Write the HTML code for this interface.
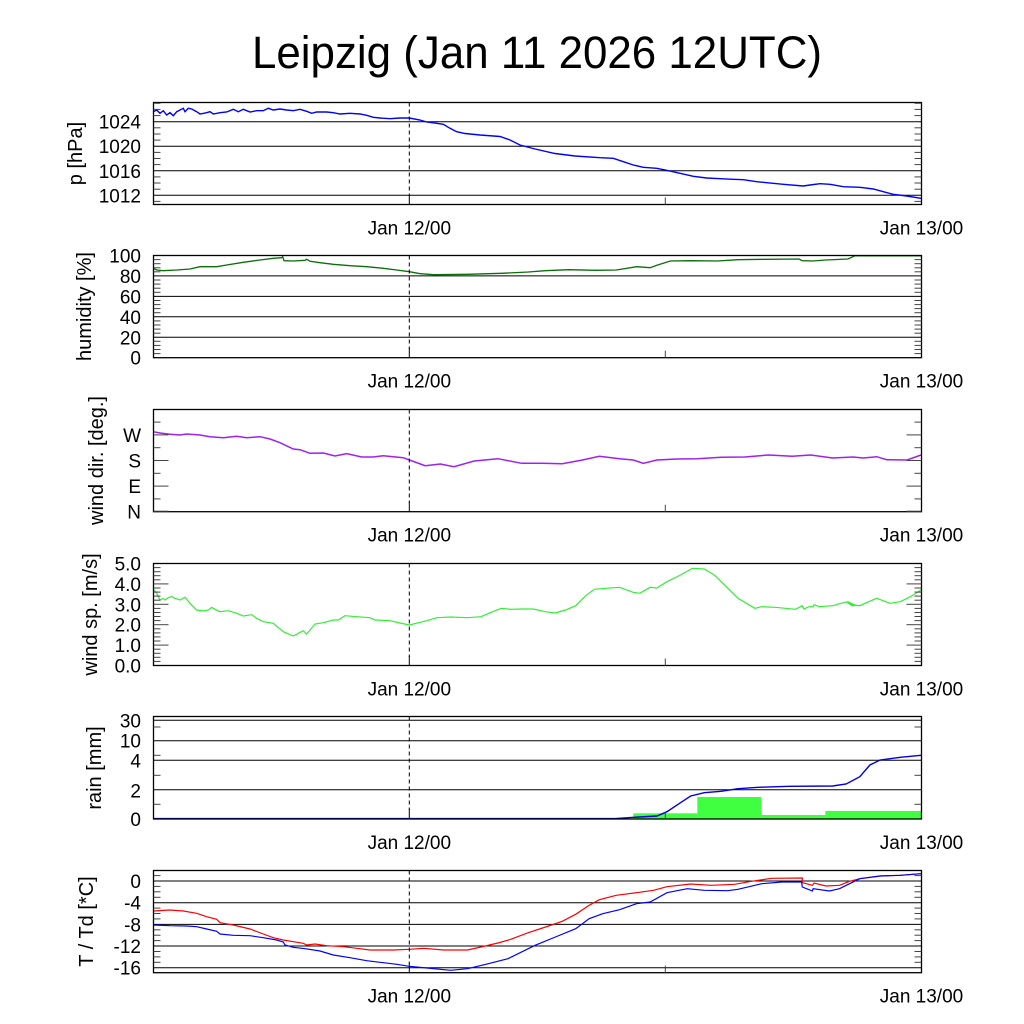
<!DOCTYPE html>
<html><head><meta charset="utf-8"><style>
html,body{margin:0;padding:0;background:#fff;}
svg{display:block;}
text{font-family:"Liberation Sans",Arial,sans-serif;fill:#000;}
.tl{font-size:19px;text-anchor:end;}
.xl{font-size:19px;text-anchor:middle;}
.yt{font-size:20px;text-anchor:middle;}
.g{stroke:#000;stroke-width:1;fill:none;}
.fr{stroke:#000;stroke-width:1.3;fill:none;}
.tk{stroke:#444;stroke-width:1;}
.ds{stroke:#000;stroke-width:1;stroke-dasharray:4,3;}
</style></head><body>
<svg width="1024" height="1024" viewBox="0 0 1024 1024" xmlns="http://www.w3.org/2000/svg">
<rect x="0" y="0" width="1024" height="1024" fill="#fff"/>
<text x="537" y="68" font-size="45" text-anchor="middle" textLength="570" lengthAdjust="spacingAndGlyphs">Leipzig (Jan 11 2026 12UTC)</text>

<!-- ===== Panel 1: pressure ===== -->
<g class="g">
<line x1="153.5" y1="121.7" x2="921.5" y2="121.7"/>
<line x1="153.5" y1="146.2" x2="921.5" y2="146.2"/>
<line x1="153.5" y1="170.8" x2="921.5" y2="170.8"/>
<line x1="153.5" y1="195.3" x2="921.5" y2="195.3"/>
</g>
<polyline fill="none" stroke="#0000ff" stroke-width="1.4" points="153.3,111.7 156.7,110 160,113.3 163.3,110.7 166.7,115 170,112.7 173.3,115.7 176.7,111.7 180,110 183.3,108.3 185,111.7 188.3,108.3 191.7,109 196.7,111.7 200,114 206.7,112.7 210,111.7 213.3,114 220,112.7 226.7,112 233.3,109.3 238.3,111.7 243.3,109.3 250,112 256.7,110.7 263.3,110.7 268.3,108.3 273.3,110 280,109 286.7,110 293.3,110.7 300,109.3 306.7,111.3 311.7,113.3 316.7,112 326.7,112 333.3,112.7 340,114 350,113.3 360,114 366.7,115.3 373.3,117.3 380,118 390,118.7 400,118 409.3,118 420,120 426.7,122 436.7,123.3 443.3,124.3 450,128.3 456.7,131.7 465,133.5 480,135 500,136.5 510,140 520,145 535,149 555,153.5 575,156 600,157.7 613.3,158.3 623.3,161.7 633.3,165 643.3,167.3 656.7,168.3 666.7,170.3 680,173.3 693.3,176.3 706.7,178 720,178.7 733.3,179.3 743.3,179.7 756.7,181.7 766.7,182.7 783.3,184.3 803.3,186 810,185 820,183.7 830,184.3 843.3,186.7 860,187.3 873.3,189 883.3,191.7 893.3,194.3 906.7,196 921,198.3"/>
<rect class="fr" x="153.5" y="102.5" width="768" height="102"/>
<g class="tk">
<line x1="153.5" y1="103.3" x2="160.5" y2="103.3"/><line x1="921.5" y1="103.3" x2="914.5" y2="103.3"/>
<line x1="153.5" y1="109.4" x2="160.5" y2="109.4"/><line x1="921.5" y1="109.4" x2="914.5" y2="109.4"/>
<line x1="153.5" y1="115.6" x2="160.5" y2="115.6"/><line x1="921.5" y1="115.6" x2="914.5" y2="115.6"/>
<line x1="153.5" y1="127.8" x2="160.5" y2="127.8"/><line x1="921.5" y1="127.8" x2="914.5" y2="127.8"/>
<line x1="153.5" y1="134.0" x2="160.5" y2="134.0"/><line x1="921.5" y1="134.0" x2="914.5" y2="134.0"/>
<line x1="153.5" y1="140.1" x2="160.5" y2="140.1"/><line x1="921.5" y1="140.1" x2="914.5" y2="140.1"/>
<line x1="153.5" y1="152.4" x2="160.5" y2="152.4"/><line x1="921.5" y1="152.4" x2="914.5" y2="152.4"/>
<line x1="153.5" y1="158.5" x2="160.5" y2="158.5"/><line x1="921.5" y1="158.5" x2="914.5" y2="158.5"/>
<line x1="153.5" y1="164.6" x2="160.5" y2="164.6"/><line x1="921.5" y1="164.6" x2="914.5" y2="164.6"/>
<line x1="153.5" y1="176.9" x2="160.5" y2="176.9"/><line x1="921.5" y1="176.9" x2="914.5" y2="176.9"/>
<line x1="153.5" y1="183.0" x2="160.5" y2="183.0"/><line x1="921.5" y1="183.0" x2="914.5" y2="183.0"/>
<line x1="153.5" y1="189.2" x2="160.5" y2="189.2"/><line x1="921.5" y1="189.2" x2="914.5" y2="189.2"/>
<line x1="153.5" y1="201.4" x2="160.5" y2="201.4"/><line x1="921.5" y1="201.4" x2="914.5" y2="201.4"/>
<line x1="665.3" y1="204.5" x2="665.3" y2="197.5"/>
</g>
<line class="ds" x1="409.3" y1="102.5" x2="409.3" y2="196"/>
<line stroke="#000" x1="409.3" y1="195" x2="409.3" y2="204.5"/>
<text class="tl" x="141" y="128.7">1024</text>
<text class="tl" x="141" y="153.2">1020</text>
<text class="tl" x="141" y="177.8">1016</text>
<text class="tl" x="141" y="202.3">1012</text>
<text class="yt" transform="translate(82,153.5) rotate(-90)">p [hPa]</text>
<text class="xl" x="409.3" y="234.5">Jan 12/00</text>
<text class="xl" x="921.5" y="234.5">Jan 13/00</text>

<!-- ===== Panel 2: humidity ===== -->
<g class="g">
<line x1="153.5" y1="275.9" x2="921.5" y2="275.9"/>
<line x1="153.5" y1="296.4" x2="921.5" y2="296.4"/>
<line x1="153.5" y1="316.8" x2="921.5" y2="316.8"/>
<line x1="153.5" y1="337.3" x2="921.5" y2="337.3"/>
</g>
<polyline fill="none" stroke="#0a6e0a" stroke-width="1.3" points="153.3,268.3 156.7,270 163.3,270.7 176.7,270 190,269 200,266.7 216.7,266.7 226.7,265 243.3,262.3 260,260 273.3,258.3 281.7,257.7 282.7,256.7 284,260.7 293.3,261 305,260.3 306.7,259.3 310,261.3 320,262.7 333.3,264.3 350,265.7 366.7,266.7 383.3,268.3 396.7,270 409.3,271.7 420.1,273.7 433.6,274.7 467.5,274.3 501.3,273.3 528.3,272 545.2,270.7 568.9,269.7 596,270.3 616.3,270 636.6,266.7 650.1,267.7 656.9,265.3 670.4,261 690.7,260.7 717.7,261 738,259.7 765.1,259.3 798.9,259 802.3,260.7 812.4,261 825.9,260 847.9,259 854.7,255.9 921,255.9"/>
<rect class="fr" x="153.5" y="255.5" width="768" height="102.2"/>
<g class="tk">
<line x1="153.5" y1="353.6" x2="160.5" y2="353.6"/><line x1="921.5" y1="353.6" x2="914.5" y2="353.6"/>
<line x1="153.5" y1="349.5" x2="160.5" y2="349.5"/><line x1="921.5" y1="349.5" x2="914.5" y2="349.5"/>
<line x1="153.5" y1="345.4" x2="160.5" y2="345.4"/><line x1="921.5" y1="345.4" x2="914.5" y2="345.4"/>
<line x1="153.5" y1="341.3" x2="160.5" y2="341.3"/><line x1="921.5" y1="341.3" x2="914.5" y2="341.3"/>
<line x1="153.5" y1="333.2" x2="160.5" y2="333.2"/><line x1="921.5" y1="333.2" x2="914.5" y2="333.2"/>
<line x1="153.5" y1="329.1" x2="160.5" y2="329.1"/><line x1="921.5" y1="329.1" x2="914.5" y2="329.1"/>
<line x1="153.5" y1="325.0" x2="160.5" y2="325.0"/><line x1="921.5" y1="325.0" x2="914.5" y2="325.0"/>
<line x1="153.5" y1="320.9" x2="160.5" y2="320.9"/><line x1="921.5" y1="320.9" x2="914.5" y2="320.9"/>
<line x1="153.5" y1="312.7" x2="160.5" y2="312.7"/><line x1="921.5" y1="312.7" x2="914.5" y2="312.7"/>
<line x1="153.5" y1="308.6" x2="160.5" y2="308.6"/><line x1="921.5" y1="308.6" x2="914.5" y2="308.6"/>
<line x1="153.5" y1="304.6" x2="160.5" y2="304.6"/><line x1="921.5" y1="304.6" x2="914.5" y2="304.6"/>
<line x1="153.5" y1="300.5" x2="160.5" y2="300.5"/><line x1="921.5" y1="300.5" x2="914.5" y2="300.5"/>
<line x1="153.5" y1="292.3" x2="160.5" y2="292.3"/><line x1="921.5" y1="292.3" x2="914.5" y2="292.3"/>
<line x1="153.5" y1="288.2" x2="160.5" y2="288.2"/><line x1="921.5" y1="288.2" x2="914.5" y2="288.2"/>
<line x1="153.5" y1="284.1" x2="160.5" y2="284.1"/><line x1="921.5" y1="284.1" x2="914.5" y2="284.1"/>
<line x1="153.5" y1="280.0" x2="160.5" y2="280.0"/><line x1="921.5" y1="280.0" x2="914.5" y2="280.0"/>
<line x1="153.5" y1="271.8" x2="160.5" y2="271.8"/><line x1="921.5" y1="271.8" x2="914.5" y2="271.8"/>
<line x1="153.5" y1="267.8" x2="160.5" y2="267.8"/><line x1="921.5" y1="267.8" x2="914.5" y2="267.8"/>
<line x1="153.5" y1="263.7" x2="160.5" y2="263.7"/><line x1="921.5" y1="263.7" x2="914.5" y2="263.7"/>
<line x1="153.5" y1="259.6" x2="160.5" y2="259.6"/><line x1="921.5" y1="259.6" x2="914.5" y2="259.6"/>
<line x1="665.3" y1="357.7" x2="665.3" y2="350.7"/>
</g>
<line class="ds" x1="409.3" y1="255.5" x2="409.3" y2="349"/>
<line stroke="#000" x1="409.3" y1="348" x2="409.3" y2="357.7"/>
<text class="tl" x="141" y="262.5">100</text>
<text class="tl" x="141" y="282.9">80</text>
<text class="tl" x="141" y="303.4">60</text>
<text class="tl" x="141" y="323.8">40</text>
<text class="tl" x="141" y="344.3">20</text>
<text class="tl" x="141" y="364.7">0</text>
<text class="yt" transform="translate(91,306.5) rotate(-90)">humidity [%]</text>
<text class="xl" x="409.3" y="387.5">Jan 12/00</text>
<text class="xl" x="921.5" y="387.5">Jan 13/00</text>

<!-- ===== Panel 3: wind dir ===== -->
<polyline fill="none" stroke="#a020f0" stroke-width="1.5" points="153.3,431.7 160,433 170,434.3 180,435 186.7,434 200,435 210,436.7 223.3,437.7 236.7,436.3 246.7,437.7 260,436.7 270,439 280,442.7 293.3,449 300,449.7 310,453.3 323.3,453 335,456 346.7,453.7 361.7,457 373.3,457 383.3,455.7 403.3,457.7 409.3,460 425.2,465.7 440.4,464 453.9,466.7 474.2,461 497.9,458.7 521.6,463.3 541.9,463.3 562.2,463.7 582.5,460 599.4,456.3 619.6,458.7 633.2,460 643.3,463.3 656.9,460 677.1,459 697.4,458.7 721.1,457.3 744.8,457 768.5,455 792.1,456.3 810.7,455 832.7,458 853,457 863.2,458 876.7,456.7 886.8,459.7 907.1,460 921,455"/>
<rect class="fr" x="153.5" y="409.5" width="768" height="102.2"/>
<g class="tk">
<line x1="153.5" y1="486.1" x2="168.5" y2="486.1"/><line x1="921.5" y1="486.1" x2="906.5" y2="486.1"/>
<line x1="153.5" y1="460.5" x2="168.5" y2="460.5"/><line x1="921.5" y1="460.5" x2="906.5" y2="460.5"/>
<line x1="153.5" y1="434.9" x2="168.5" y2="434.9"/><line x1="921.5" y1="434.9" x2="906.5" y2="434.9"/>
<line x1="153.5" y1="511.2" x2="168.5" y2="511.2"/><line x1="921.5" y1="511.2" x2="906.5" y2="511.2"/>
<line x1="153.5" y1="498.9" x2="160.5" y2="498.9"/><line x1="921.5" y1="498.9" x2="914.5" y2="498.9"/>
<line x1="153.5" y1="473.3" x2="160.5" y2="473.3"/><line x1="921.5" y1="473.3" x2="914.5" y2="473.3"/>
<line x1="153.5" y1="447.7" x2="160.5" y2="447.7"/><line x1="921.5" y1="447.7" x2="914.5" y2="447.7"/>
<line x1="153.5" y1="422.1" x2="160.5" y2="422.1"/><line x1="921.5" y1="422.1" x2="914.5" y2="422.1"/>
<line x1="665.3" y1="511.7" x2="665.3" y2="504.7"/>
</g>
<line class="ds" x1="409.3" y1="409.5" x2="409.3" y2="503"/>
<line stroke="#000" x1="409.3" y1="502" x2="409.3" y2="511.7"/>
<text class="tl" x="141" y="441.9">W</text>
<text class="tl" x="141" y="467.5">S</text>
<text class="tl" x="141" y="493.1">E</text>
<text class="tl" x="141" y="518.7">N</text>
<text class="yt" transform="translate(103,460.5) rotate(-90)">wind dir. [deg.]</text>
<text class="xl" x="409.3" y="541.5">Jan 12/00</text>
<text class="xl" x="921.5" y="541.5">Jan 13/00</text>

<!-- ===== Panel 4: wind speed ===== -->
<polyline fill="none" stroke="#33ee33" stroke-width="1.2" points="154,590 156.7,593.3 160,600 163.3,598.3 165,600 168.3,597.7 171.7,596.7 175,598.3 180,600 185,597.3 190,603.3 196.7,610 203.3,611 208.3,610 211.7,607.3 215,609.3 220,611.7 228.3,610.7 236.7,613.3 243.3,616 251.7,614.7 256.7,618.3 263.3,621.7 273.3,623.3 283.3,631.7 293.3,636 298.3,633.3 303.3,630.7 306.7,634 315,624 323.3,622.7 333.3,620 338.3,620 345,615.7 356.7,616.7 370,617.7 375,620 390,620.7 400,623 409.3,625 426.9,620.7 437,617.7 450.6,617 467.5,617.7 481,616.7 491.1,612.3 501.3,608.3 511.4,609.3 521.6,609 533.4,609 545.2,611.7 555.4,613 565.5,610 575.7,605.7 585.8,595.7 594.3,589.3 606.1,588.3 619.6,587.3 633.2,592.3 639.9,593.3 650.1,587.3 656.9,588 667,581.7 680.5,575 692.4,568.3 704.2,569 714.3,575 727.9,588.3 738,598.3 754.9,608.3 761.7,606.7 775.2,607.3 795.5,609.3 802.3,605.7 803.9,609 809,606.7 813.1,606.7 814.1,604.7 819.2,606.7 832.7,605.7 839.5,603.7 848,601.7 854.7,605 859.8,605.7 866.5,602.7 876.7,598.3 890.2,603.3 900.3,601.7 910.5,596.7 921,590"/>
<polygon fill="#33ee33" points="845,601.5 858,605.5 852,606.5"/>
<rect class="fr" x="153.5" y="563.5" width="768" height="102"/>
<g class="tk">
<line x1="153.5" y1="645.1" x2="168.5" y2="645.1"/><line x1="921.5" y1="645.1" x2="906.5" y2="645.1"/>
<line x1="153.5" y1="624.7" x2="168.5" y2="624.7"/><line x1="921.5" y1="624.7" x2="906.5" y2="624.7"/>
<line x1="153.5" y1="604.3" x2="168.5" y2="604.3"/><line x1="921.5" y1="604.3" x2="906.5" y2="604.3"/>
<line x1="153.5" y1="583.9" x2="168.5" y2="583.9"/><line x1="921.5" y1="583.9" x2="906.5" y2="583.9"/>
<line x1="153.5" y1="661.4" x2="160.5" y2="661.4"/><line x1="921.5" y1="661.4" x2="914.5" y2="661.4"/>
<line x1="153.5" y1="657.3" x2="160.5" y2="657.3"/><line x1="921.5" y1="657.3" x2="914.5" y2="657.3"/>
<line x1="153.5" y1="653.3" x2="160.5" y2="653.3"/><line x1="921.5" y1="653.3" x2="914.5" y2="653.3"/>
<line x1="153.5" y1="649.2" x2="160.5" y2="649.2"/><line x1="921.5" y1="649.2" x2="914.5" y2="649.2"/>
<line x1="153.5" y1="641.0" x2="160.5" y2="641.0"/><line x1="921.5" y1="641.0" x2="914.5" y2="641.0"/>
<line x1="153.5" y1="636.9" x2="160.5" y2="636.9"/><line x1="921.5" y1="636.9" x2="914.5" y2="636.9"/>
<line x1="153.5" y1="632.9" x2="160.5" y2="632.9"/><line x1="921.5" y1="632.9" x2="914.5" y2="632.9"/>
<line x1="153.5" y1="628.8" x2="160.5" y2="628.8"/><line x1="921.5" y1="628.8" x2="914.5" y2="628.8"/>
<line x1="153.5" y1="620.6" x2="160.5" y2="620.6"/><line x1="921.5" y1="620.6" x2="914.5" y2="620.6"/>
<line x1="153.5" y1="616.5" x2="160.5" y2="616.5"/><line x1="921.5" y1="616.5" x2="914.5" y2="616.5"/>
<line x1="153.5" y1="612.5" x2="160.5" y2="612.5"/><line x1="921.5" y1="612.5" x2="914.5" y2="612.5"/>
<line x1="153.5" y1="608.4" x2="160.5" y2="608.4"/><line x1="921.5" y1="608.4" x2="914.5" y2="608.4"/>
<line x1="153.5" y1="600.2" x2="160.5" y2="600.2"/><line x1="921.5" y1="600.2" x2="914.5" y2="600.2"/>
<line x1="153.5" y1="596.1" x2="160.5" y2="596.1"/><line x1="921.5" y1="596.1" x2="914.5" y2="596.1"/>
<line x1="153.5" y1="592.1" x2="160.5" y2="592.1"/><line x1="921.5" y1="592.1" x2="914.5" y2="592.1"/>
<line x1="153.5" y1="588.0" x2="160.5" y2="588.0"/><line x1="921.5" y1="588.0" x2="914.5" y2="588.0"/>
<line x1="153.5" y1="579.8" x2="160.5" y2="579.8"/><line x1="921.5" y1="579.8" x2="914.5" y2="579.8"/>
<line x1="153.5" y1="575.7" x2="160.5" y2="575.7"/><line x1="921.5" y1="575.7" x2="914.5" y2="575.7"/>
<line x1="153.5" y1="571.7" x2="160.5" y2="571.7"/><line x1="921.5" y1="571.7" x2="914.5" y2="571.7"/>
<line x1="153.5" y1="567.6" x2="160.5" y2="567.6"/><line x1="921.5" y1="567.6" x2="914.5" y2="567.6"/>
<line x1="665.3" y1="665.5" x2="665.3" y2="658.5"/>
</g>
<line class="ds" x1="409.3" y1="563.5" x2="409.3" y2="657"/>
<line stroke="#000" x1="409.3" y1="656" x2="409.3" y2="665.5"/>
<text class="tl" x="141" y="570.5">5.0</text>
<text class="tl" x="141" y="590.9">4.0</text>
<text class="tl" x="141" y="611.3">3.0</text>
<text class="tl" x="141" y="631.7">2.0</text>
<text class="tl" x="141" y="652.1">1.0</text>
<text class="tl" x="141" y="672.5">0.0</text>
<text class="yt" transform="translate(97,614.5) rotate(-90)">wind sp. [m/s]</text>
<text class="xl" x="409.3" y="695.5">Jan 12/00</text>
<text class="xl" x="921.5" y="695.5">Jan 13/00</text>

<!-- ===== Panel 5: rain ===== -->
<g class="g">
<line x1="153.5" y1="720.3" x2="921.5" y2="720.3"/>
<line x1="153.5" y1="740.7" x2="921.5" y2="740.7"/>
<line x1="153.5" y1="760.3" x2="921.5" y2="760.3"/>
<line x1="153.5" y1="789.7" x2="921.5" y2="789.7"/>
</g>
<g fill="#40ff40">
<rect x="633.3" y="813.3" width="64" height="5.7"/>
<rect x="697.3" y="797" width="64" height="22"/>
<rect x="761.3" y="815" width="64" height="4"/>
<rect x="825.3" y="811" width="96.2" height="8"/>
</g>
<polyline fill="none" stroke="#0000e0" stroke-width="1.4" points="153.3,818.6 615,818.6 633.9,817.3 656.9,816 667,811.7 680.5,802.7 690.7,796 704.2,792.7 721.1,791.3 738,788.7 758.3,787.3 788.7,786.3 832.7,786 846.2,784 859.8,776.7 869.9,765 880.1,760 900.3,757.3 921,755.3"/>
<rect class="fr" x="153.5" y="716.5" width="768" height="102.5"/>
<g class="tk">
<line x1="153.5" y1="804.3" x2="160.5" y2="804.3"/><line x1="921.5" y1="804.3" x2="914.5" y2="804.3"/>
<line x1="153.5" y1="775.3" x2="160.5" y2="775.3"/><line x1="921.5" y1="775.3" x2="914.5" y2="775.3"/>
<line x1="153.5" y1="755.3" x2="160.5" y2="755.3"/>
<line x1="153.5" y1="727" x2="160.5" y2="727"/><line x1="921.5" y1="727" x2="914.5" y2="727"/>
<line x1="665.3" y1="819" x2="665.3" y2="812"/>
</g>
<line class="ds" x1="409.3" y1="716.5" x2="409.3" y2="810"/>
<line stroke="#000" x1="409.3" y1="809" x2="409.3" y2="819"/>
<text class="tl" x="141" y="727.5">30</text>
<text class="tl" x="141" y="747.7">10</text>
<text class="tl" x="141" y="767.3">4</text>
<text class="tl" x="141" y="797.5">2</text>
<text class="tl" x="141" y="826">0</text>
<text class="yt" transform="translate(101,768) rotate(-90)">rain [mm]</text>
<text class="xl" x="409.3" y="849">Jan 12/00</text>
<text class="xl" x="921.5" y="849">Jan 13/00</text>

<!-- ===== Panel 6: temperature ===== -->
<g class="g">
<line x1="153.5" y1="881" x2="921.5" y2="881"/>
<line x1="153.5" y1="902.7" x2="921.5" y2="902.7"/>
<line x1="153.5" y1="924.4" x2="921.5" y2="924.4"/>
<line x1="153.5" y1="946" x2="921.5" y2="946"/>
<line x1="153.5" y1="967.7" x2="921.5" y2="967.7"/>
</g>
<polyline fill="none" stroke="#ff0000" stroke-width="1.2" points="153.3,911 170,910 183.3,911 196.7,913.3 206.7,916.7 216.7,919.3 220,922.7 233.3,925 250,929 263.3,934 273.3,937.7 283.3,940 293.3,941.7 303.3,943.3 306.7,945 315,944 326.7,945.7 343.3,946.7 360,948.7 370,950 393.3,950 409.3,949.3 423.5,948.3 443.8,950 467.5,950 481,947 497.9,943 509.7,939.7 528.3,932.7 548.6,926 562.2,921.3 575.7,914.3 589.2,905.3 599.4,899.7 616.3,895.3 636.6,892.7 653.5,890.3 667,886.7 690.7,884 711,885.3 734.6,884.3 751.5,881.3 771.8,878.3 802.3,878 802.3,882.7 812.4,885.3 814.1,883 825.9,886 839.5,885.3 849.6,881.3 859.8,878.7 880.1,876 900.3,875.3 921,873.7"/>
<polyline fill="none" stroke="#0000ff" stroke-width="1.2" points="153.3,925 170,925.7 186.7,926 196.7,926.7 206.7,929 216.7,931.3 220,934 233.3,935.3 250,935.7 263.3,937.7 276.7,940 283.3,942 285,945 293.3,947.3 305,948.7 320,951 333.3,955 350,957.7 366.7,960.7 383.3,962.7 396.7,964.3 409.3,966.3 426.9,968 450.6,970.3 467.5,968.7 484.4,964.7 508,958.7 535.1,945.3 555.4,937 575.7,928.7 589.2,918.7 602.7,913.7 619.6,909.7 636.6,903.7 650.1,902 667,892.7 687.3,888.7 704.2,890.3 727.9,890.7 738,889.3 761.7,883.7 782,882 801.6,882 802.3,887 812.4,891 813.1,888.7 829.3,891 839.5,888.7 849.6,883.7 859.8,878.7 880.1,876 900.3,875.3 921,873.7"/>
<rect class="fr" x="153.5" y="870.5" width="768" height="102.2"/>
<g class="tk">
<line x1="153.5" y1="875.6" x2="160.5" y2="875.6"/><line x1="921.5" y1="875.6" x2="914.5" y2="875.6"/>
<line x1="153.5" y1="886.4" x2="160.5" y2="886.4"/><line x1="921.5" y1="886.4" x2="914.5" y2="886.4"/>
<line x1="153.5" y1="891.8" x2="160.5" y2="891.8"/><line x1="921.5" y1="891.8" x2="914.5" y2="891.8"/>
<line x1="153.5" y1="897.3" x2="160.5" y2="897.3"/><line x1="921.5" y1="897.3" x2="914.5" y2="897.3"/>
<line x1="153.5" y1="908.1" x2="160.5" y2="908.1"/><line x1="921.5" y1="908.1" x2="914.5" y2="908.1"/>
<line x1="153.5" y1="913.5" x2="160.5" y2="913.5"/><line x1="921.5" y1="913.5" x2="914.5" y2="913.5"/>
<line x1="153.5" y1="918.9" x2="160.5" y2="918.9"/><line x1="921.5" y1="918.9" x2="914.5" y2="918.9"/>
<line x1="153.5" y1="929.8" x2="160.5" y2="929.8"/><line x1="921.5" y1="929.8" x2="914.5" y2="929.8"/>
<line x1="153.5" y1="935.2" x2="160.5" y2="935.2"/><line x1="921.5" y1="935.2" x2="914.5" y2="935.2"/>
<line x1="153.5" y1="940.6" x2="160.5" y2="940.6"/><line x1="921.5" y1="940.6" x2="914.5" y2="940.6"/>
<line x1="153.5" y1="951.5" x2="160.5" y2="951.5"/><line x1="921.5" y1="951.5" x2="914.5" y2="951.5"/>
<line x1="153.5" y1="956.9" x2="160.5" y2="956.9"/><line x1="921.5" y1="956.9" x2="914.5" y2="956.9"/>
<line x1="153.5" y1="962.3" x2="160.5" y2="962.3"/><line x1="921.5" y1="962.3" x2="914.5" y2="962.3"/>
<line x1="665.3" y1="972.7" x2="665.3" y2="965.7"/>
</g>
<line class="ds" x1="409.3" y1="870.5" x2="409.3" y2="964"/>
<line stroke="#000" x1="409.3" y1="963" x2="409.3" y2="972.7"/>
<text class="tl" x="141" y="888">0</text>
<text class="tl" x="141" y="909.7">-4</text>
<text class="tl" x="141" y="931.4">-8</text>
<text class="tl" x="141" y="953">-12</text>
<text class="tl" x="141" y="974.7">-16</text>
<text class="yt" transform="translate(93,921.5) rotate(-90)">T / Td [*C]</text>
<text class="xl" x="409.3" y="1002.5">Jan 12/00</text>
<text class="xl" x="921.5" y="1002.5">Jan 13/00</text>
</svg>
</body></html>
